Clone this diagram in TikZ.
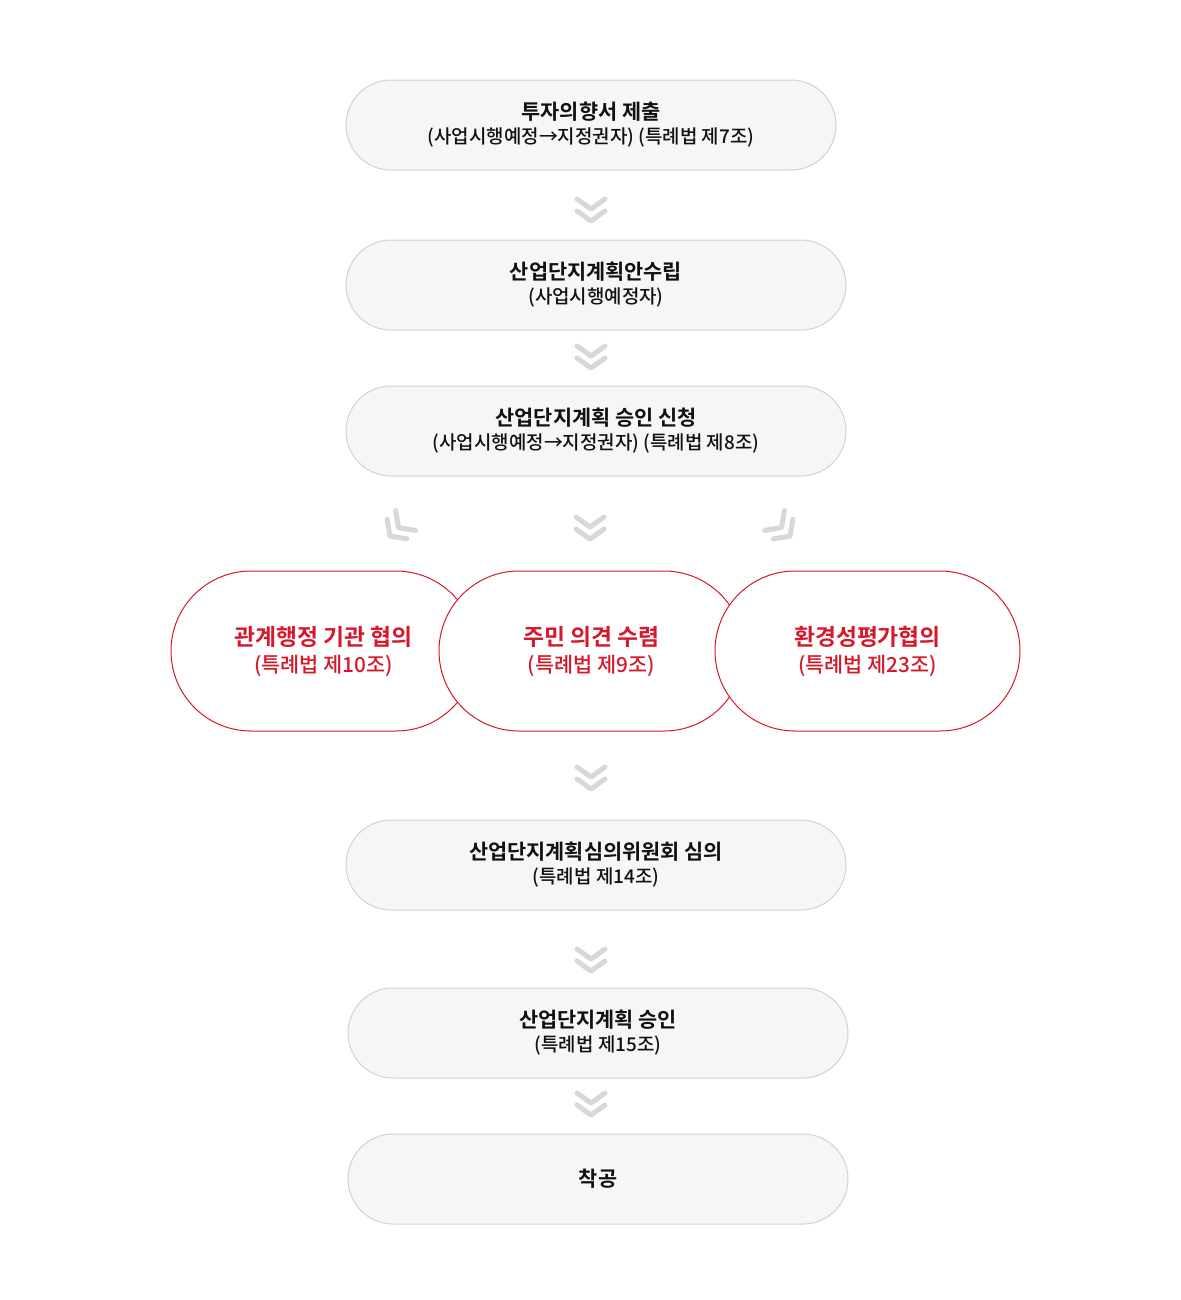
\documentclass[tikz,border=0pt]{standalone}
\usepackage{fontspec}
\newfontfamily\kr{Noto Sans CJK KR Medium}[BoldFont={Noto Sans CJK KR Bold}]
\usetikzlibrary{shapes.misc}

\definecolor{boxfill}{HTML}{F6F6F6}
\definecolor{boxline}{HTML}{D2D2D2}
\definecolor{chevgray}{HTML}{D8D8D8}
\definecolor{stepred}{HTML}{D5192B}
\definecolor{ink}{HTML}{111111}

\tikzset{
  graybox/.style={rounded rectangle, draw=boxline, fill=boxfill, line width=0.75pt,
    minimum height=67.5pt, inner sep=0pt, align=center, text=ink,
    font=\kr\fontsize{14.2}{18}\selectfont},
  redoval/.style={rounded rectangle, draw=stepred, fill=white, line width=0.75pt,
    minimum height=120pt, minimum width=228.75pt, inner sep=0pt, align=center, text=stepred,
    font=\kr\fontsize{15.6}{20.25}\selectfont},
  chevron/.pic={
    \draw[chevgray, line width=3.75pt, line cap=round, line join=round]
      (-14,-12) -- (0,-2) -- (14,-12)
      (-14,0) -- (0,10) -- (14,0);
  }
}

\begin{document}
\begin{tikzpicture}[x=0.75pt,y=-0.75pt]
\fill[white] (0,0) rectangle (1181,1300);
\useasboundingbox (0,0) rectangle (1181,1300);

\node[graybox, minimum width=367.5pt] (submit) at (591,125)
  {{\bfseries\fontsize{15.6}{18}\selectfont 투자의향서 제출}\\(사업시행예정→지정권자) (특례법 제7조)};
\pic at (591,211) {chevron};

\node[graybox, minimum width=375pt] (plan) at (596,285)
  {{\bfseries\fontsize{15.6}{18}\selectfont 산업단지계획안수립}\\(사업시행예정자)};
\pic at (591,358) {chevron};

\node[graybox, minimum width=375pt] (apply) at (596,431)
  {{\bfseries\fontsize{15.6}{18}\selectfont 산업단지계획 승인 신청}\\(사업시행예정→지정권자) (특례법 제8조)};
\pic[rotate=-45] at (397,529) {chevron};
\pic at (590,529) {chevron};
\pic[rotate=45] at (783,529) {chevron};

% three consultations, later ones cover the earlier outline
\node[redoval] (agency) at (323.5,651)
  {{\bfseries\fontsize{17.1}{20.25}\selectfont 관계행정 기관 협의}\\(특례법 제10조)};
\node[redoval] (resident) at (591.5,651)
  {{\bfseries\fontsize{17.1}{20.25}\selectfont 주민 의견 수렴}\\(특례법 제9조)};
\node[redoval] (envir) at (867.5,651)
  {{\bfseries\fontsize{17.1}{20.25}\selectfont 환경성평가협의}\\(특례법 제23조)};
\pic at (591,779) {chevron};

\node[graybox, minimum width=375pt] (review) at (596,865)
  {{\bfseries\fontsize{15.6}{18}\selectfont 산업단지계획심의위원회 심의}\\(특례법 제14조)};
\pic at (591,961) {chevron};

\node[graybox, minimum width=375pt] (approve) at (598,1033)
  {{\bfseries\fontsize{15.6}{18}\selectfont 산업단지계획 승인}\\(특례법 제15조)};
\pic at (591,1105) {chevron};

\node[graybox, minimum width=375pt, font=\kr\bfseries\fontsize{15.6}{18}\selectfont] (start) at (598,1179) {착공};
\end{tikzpicture}
\end{document}
